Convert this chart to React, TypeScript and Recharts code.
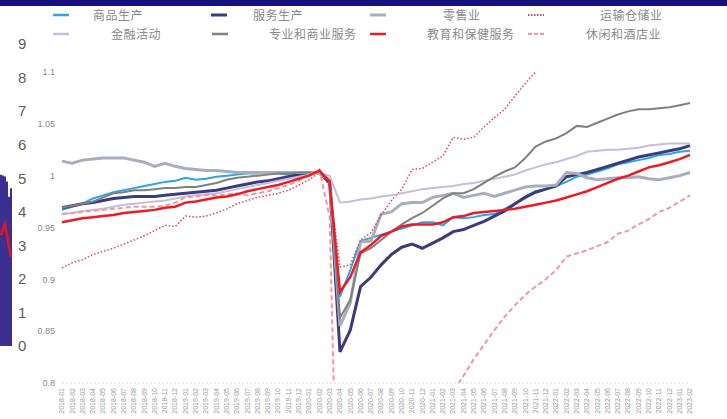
import React from "react";
import { LineChart, Line, XAxis, YAxis, ComposedChart, Bar } from "recharts";

const months = [
  "2018-01","2018-02","2018-03","2018-04","2018-05","2018-06","2018-07","2018-08","2018-09","2018-10","2018-11","2018-12",
  "2019-01","2019-02","2019-03","2019-04","2019-05","2019-06","2019-07","2019-08","2019-09","2019-10","2019-11","2019-12",
  "2020-01","2020-02","2020-03","2020-04","2020-05","2020-06","2020-07","2020-08","2020-09","2020-10","2020-11","2020-12",
  "2021-01","2021-02","2021-03","2021-04","2021-05","2021-06","2021-07","2021-08","2021-09","2021-10","2021-11","2021-12",
  "2022-01","2022-02","2022-03","2022-04","2022-05","2022-06","2022-07","2022-08","2022-09","2022-10","2022-11","2022-12",
  "2023-01","2023-02",
];

const goods = [
  0.967,0.970,0.973,0.978,0.981,0.984,0.986,0.988,0.990,0.992,0.994,0.995,0.998,0.996,0.997,0.999,1.000,1.001,1.002,1.002,1.003,1.002,1.001,1.002,1.003,1.002,
  0.993,0.883,0.909,0.937,0.940,0.943,0.946,0.949,0.952,0.955,0.955,0.952,0.960,0.959,0.960,0.962,0.963,0.968,0.973,0.980,0.985,0.987,0.990,0.994,0.999,1.001,1.004,1.007,1.011,1.013,1.015,1.017,1.020,1.021,1.023,1.024,
];
const services = [
  0.969,0.971,0.973,0.974,0.976,0.978,0.979,0.980,0.980,0.980,0.981,0.982,0.983,0.984,0.985,0.986,0.988,0.990,0.992,0.994,0.995,0.997,0.999,1.001,1.002,1.003,
  0.993,0.830,0.851,0.893,0.902,0.914,0.924,0.931,0.934,0.930,0.935,0.940,0.946,0.948,0.952,0.956,0.961,0.966,0.973,0.979,0.984,0.987,0.990,0.999,1.001,1.003,1.006,1.009,1.012,1.015,1.018,1.020,1.022,1.024,1.026,1.029,
];
const retail = [
  1.014,1.012,1.015,1.016,1.017,1.017,1.017,1.015,1.013,1.009,1.012,1.009,1.007,1.006,1.005,1.005,1.004,1.003,1.003,1.003,1.003,1.003,1.003,1.003,1.003,1.002,
  0.996,0.855,0.877,0.936,0.937,0.963,0.965,0.973,0.974,0.974,0.979,0.981,0.983,0.979,0.981,0.983,0.980,0.983,0.986,0.989,0.990,0.990,0.991,1.003,1.002,0.998,0.996,0.997,0.998,0.998,0.999,0.997,0.996,0.998,1.000,1.003,
];
const transport = [
  0.911,0.916,0.919,0.924,0.927,0.930,0.934,0.938,0.942,0.947,0.952,0.951,0.961,0.960,0.961,0.964,0.968,0.973,0.976,0.979,0.981,0.983,0.986,0.991,0.996,1.003,
  0.990,0.912,0.914,0.938,0.945,0.962,0.976,0.987,1.006,1.007,1.013,1.019,1.037,1.035,1.037,1.047,1.056,1.064,1.077,1.089,1.100,
  null,null,null,null,null,null,null,null,null,null,null,null,null,null,null,
];
const finance = [
  0.963,0.964,0.966,0.967,0.968,0.970,0.972,0.973,0.974,0.975,0.976,0.978,0.980,0.981,0.982,0.983,0.985,0.987,0.989,0.991,0.993,0.995,0.997,0.999,1.001,1.002,
  1.000,0.974,0.975,0.977,0.978,0.980,0.981,0.983,0.985,0.987,0.988,0.989,0.990,0.992,0.993,0.995,0.997,0.999,1.001,1.005,1.008,1.011,1.013,1.016,1.019,1.023,1.024,1.025,1.025,1.026,1.027,1.029,1.030,1.031,1.031,1.031,
];
const professional = [
  0.969,0.971,0.973,0.975,0.979,0.983,0.984,0.986,0.986,0.987,0.988,0.988,0.989,0.989,0.991,0.993,0.996,0.998,0.999,1.000,1.001,1.002,1.002,1.003,1.003,1.003,
  0.995,0.863,0.880,0.925,0.930,0.938,0.946,0.953,0.959,0.964,0.971,0.978,0.983,0.983,0.987,0.993,0.999,1.004,1.008,1.017,1.028,1.033,1.036,1.041,1.048,1.047,1.051,1.055,1.059,1.062,1.064,1.064,1.065,1.066,1.068,1.070,
];
const education = [
  0.955,0.957,0.959,0.960,0.961,0.962,0.964,0.965,0.966,0.967,0.969,0.970,0.974,0.975,0.977,0.979,0.980,0.982,0.985,0.987,0.989,0.991,0.994,0.997,1.000,1.005,
  0.994,0.888,0.902,0.926,0.933,0.942,0.946,0.951,0.953,0.953,0.953,0.955,0.960,0.961,0.964,0.965,0.966,0.967,0.968,0.970,0.972,0.974,0.976,0.979,0.982,0.985,0.989,0.993,0.997,1.000,1.004,1.008,1.010,1.013,1.016,1.020,
];
const leisure = [
  0.963,0.964,0.965,0.966,0.967,0.968,0.969,0.970,0.970,0.970,0.971,0.974,0.979,0.980,0.981,0.981,0.982,0.983,0.981,0.983,0.985,0.988,0.991,0.995,1.001,1.006,
  0.960,0.550,0.620,0.680,0.720,0.740,0.750,0.760,0.770,0.765,0.770,0.780,0.792,0.807,0.823,0.837,0.851,0.864,0.875,0.885,0.893,0.900,0.909,0.922,0.925,0.928,0.932,0.936,0.944,0.947,0.953,0.958,0.965,0.969,0.975,0.981,
];

const yTicks = [0.8, 0.85, 0.9, 0.95, 1, 1.05, 1.1];

// background chart fragment on the left
const bgCats = ["a", "b", "c", "d", "e", "f"];
const bgBars = [5.1, 5.08, 5.05, 4.9, 4.45, 4.7];
const bgLine = [3.3, 3.5, 3.64, 3.3, 2.95, 2.65];
const bgTicks = [0, 1, 2, 3, 4, 5, 6, 7, 8, 9];

const seriesNames = [
  "商品生产", "服务生产", "零售业", "运输仓储业",
  "金融活动", "专业和商业服务", "教育和保健服务", "休闲和酒店业",
];

const data = months.map((m, i) => ({
  month: m,
  goods: goods[i],
  services: services[i],
  retail: retail[i],
  transport: transport[i],
  finance: finance[i],
  professional: professional[i],
  education: education[i],
  leisure: leisure[i],
}));
const bgData = bgCats.map((c, i) => ({ c, bar: bgBars[i], line: bgLine[i] }));

const styles: Record<string, { color: string; width: number; dash?: string }> = {
  goods: { color: "#2aa7df", width: 2 },
  services: { color: "#3d3b7c", width: 3 },
  retail: { color: "#a9aebf", width: 3 },
  transport: { color: "#e3405a", width: 1.5, dash: "1.5 2" },
  finance: { color: "#c4bfdc", width: 2 },
  professional: { color: "#808080", width: 2 },
  education: { color: "#ec1c24", width: 2.5 },
  leisure: { color: "#f4979b", width: 2, dash: "5 3" },
};
const keys = ["goods", "services", "retail", "transport", "finance", "professional", "education", "leisure"];

// legend layout (positions only)
const legendLayout = [
  { sx: 53, tx: 93, y: 15 },
  { sx: 211, tx: 253, y: 15 },
  { sx: 370, tx: 443, y: 15 },
  { sx: 528, tx: 600, y: 15 },
  { sx: 53, tx: 111, y: 34 },
  { sx: 212, tx: 269, y: 34 },
  { sx: 370, tx: 427, y: 34 },
  { sx: 528, tx: 586, y: 34 },
];

const MonthTick = (props: any) => {
  const { x, y, payload } = props;
  return (
    <g transform={`translate(${x},${y})`}>
      <text transform="rotate(-90)" textAnchor="end" x={0} y={0} dy="0.32em" fontSize={7} fill="#9a9a9a" fontFamily="Liberation Sans, Arial, sans-serif">
        {payload.value}
      </text>
    </g>
  );
};

export default function App() {
  const drawOrder = ["goods", "services", "retail", "transport", "finance", "professional", "leisure", "education"];
  return (
    <div style={{ position: "absolute", left: 0, top: 0, width: 727, height: 419, background: "#fff", overflow: "hidden" }}>
      <div style={{ position: "absolute", left: 0, top: 0, width: 727, height: 6, background: "#17107f" }} />
      <div style={{ position: "absolute", left: 0, top: 0 }}>
        <ComposedChart width={40} height={419} data={bgData} margin={{ top: 44, bottom: 73, left: 0, right: 0 }} barCategoryGap={0}>
          <XAxis dataKey="c" hide />
          <YAxis orientation="right" width={28} domain={[0, 9]} ticks={bgTicks} tickLine={false} axisLine={false} tickSize={6} tickMargin={0}
            tick={{ fontSize: 15, fill: "#606060", fontFamily: "Liberation Sans, Arial, sans-serif" }} />
          <Bar dataKey="bar" fill="#3a3092" isAnimationActive={false} />
          <Line dataKey="line" stroke="#e8141c" strokeWidth={2.5} dot={false} isAnimationActive={false} type="linear" />
        </ComposedChart>
      </div>
      <div style={{ position: "absolute", left: 0, top: 0 }}>
        <LineChart width={727} height={419} data={data} margin={{ top: 72, right: 37, bottom: 0, left: 0 }}>
          <XAxis dataKey="month" interval={0} height={36} tickLine={false} tickSize={0} tickMargin={5}
            axisLine={{ stroke: "#d6d6d6", strokeDasharray: "2 2" }} tick={<MonthTick />} />
          <YAxis type="number" width={62} domain={[0.8, 1.1]} ticks={yTicks} allowDataOverflow tickLine={false} axisLine={false}
            tickSize={0} tickMargin={7} tick={{ fontSize: 9, fill: "#8a8a8a", fontFamily: "Liberation Sans, Arial, sans-serif" }} />
          {drawOrder.map((k) => (
            <Line key={k} dataKey={k} stroke={styles[k].color} strokeWidth={styles[k].width}
              strokeDasharray={styles[k].dash} dot={false} activeDot={false} type="linear" isAnimationActive={false} connectNulls={false} />
          ))}
        </LineChart>
      </div>
      {keys.map((k, i) => {
        const L = legendLayout[i];
        const s = styles[k];
        return (
          <React.Fragment key={k}>
            <svg style={{ position: "absolute", left: L.sx, top: L.y - 4 }} width={18} height={8}>
              <line x1={0} y1={4} x2={16} y2={4} stroke={s.color} strokeWidth={s.dash ? 2 : Math.max(2.5, s.width)} strokeDasharray={s.dash ? (k === "leisure" ? "4 2" : "1.5 1.5") : undefined} />
            </svg>
            <div style={{ position: "absolute", left: L.tx, top: L.y - 9, fontSize: 12, lineHeight: "18px", letterSpacing: 0.5, color: "#8a8a8a", fontFamily: "'Noto Sans CJK SC', sans-serif", whiteSpace: "nowrap" }}>
              {seriesNames[i]}
            </div>
          </React.Fragment>
        );
      })}
    </div>
  );
}
